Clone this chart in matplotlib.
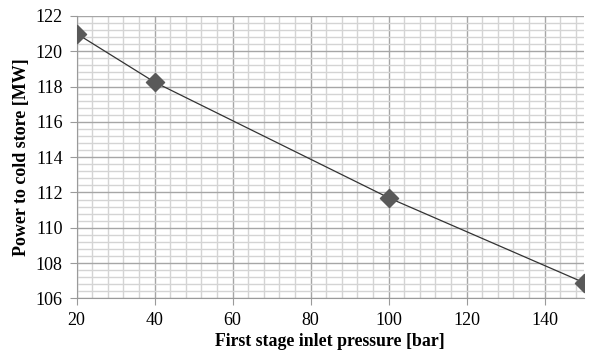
import numpy as np
import matplotlib.pyplot as plt
from matplotlib.ticker import MultipleLocator

pressure = [20, 40, 100, 150]
power = [121.0, 118.25, 111.7, 106.9]

plt.rcParams['font.family'] = ['Liberation Serif', 'DejaVu Serif']

fig = plt.figure(figsize=(6.03, 3.54), dpi=100)
ax = fig.add_axes([0.127, 0.157, 0.841, 0.798])

ax.plot(pressure, power, color='#333333', linewidth=0.9, zorder=3)
ax.scatter(pressure, power, marker='D', s=85, color='#595959', zorder=4)

ax.set_xlim(20, 150)
ax.set_ylim(106, 122)
ax.xaxis.set_major_locator(MultipleLocator(20))
ax.xaxis.set_minor_locator(MultipleLocator(4))
ax.yaxis.set_major_locator(MultipleLocator(2))
ax.yaxis.set_minor_locator(MultipleLocator(0.4))

ax.grid(True, which='major', color='#a6a6a6', linewidth=1.0)
ax.grid(True, which='minor', color='#d4d4d4', linewidth=1.0)
ax.set_axisbelow(True)

for s in ['top', 'right']:
    ax.spines[s].set_visible(False)
for s in ['left', 'bottom']:
    ax.spines[s].set_color('#9a9a9a')

ax.tick_params(which='major', length=5, color='#9a9a9a', labelsize=13, pad=5)
ax.tick_params(which='minor', length=0)

ax.set_xlabel("First stage inlet pressure [bar]", fontsize=12.8, fontweight='bold', labelpad=3)
ax.set_ylabel("Power to cold store [MW]", fontsize=13, fontweight='bold', labelpad=4)

plt.savefig("out.png", dpi=100)
